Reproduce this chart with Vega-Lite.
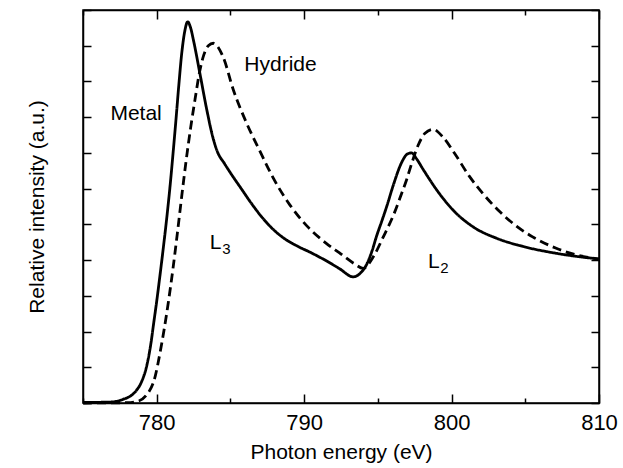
{
  "$schema": "https://vega.github.io/schema/vega-lite/v6.json",
  "width": 516,
  "height": 393,
  "autosize": "none",
  "padding": {"left": 83, "top": 10, "right": 24, "bottom": 65},
  "background": "white",
  "config": {
    "view": {"stroke": "black", "strokeWidth": 1.5},
    "font": "Liberation Sans",
    "axis": {"domainColor": "black", "domainWidth": 1.5, "tickColor": "black", "tickWidth": 1.5, "grid": false, "labelFont": "Liberation Sans", "titleFont": "Liberation Sans", "labelFontSize": 22, "titleFontSize": 21, "titleFontWeight": "normal", "labelColor": "black", "titleColor": "black"}
  },
  "datasets": {
    "spectra": [
      {"e": 775, "v": 0.02, "s": "Metal"}, {"e": 776, "v": 0.02, "s": "Metal"}, {"e": 777, "v": 0.03, "s": "Metal"},
      {"e": 777.7, "v": 0.1, "s": "Metal"}, {"e": 778.3, "v": 0.22, "s": "Metal"}, {"e": 778.6, "v": 0.34, "s": "Metal"},
      {"e": 779.0, "v": 0.62, "s": "Metal"}, {"e": 779.3, "v": 1.0, "s": "Metal"}, {"e": 779.6, "v": 1.65, "s": "Metal"},
      {"e": 779.8, "v": 2.25, "s": "Metal"}, {"e": 780.0, "v": 2.85, "s": "Metal"}, {"e": 780.2, "v": 3.5, "s": "Metal"},
      {"e": 780.45, "v": 4.35, "s": "Metal"}, {"e": 780.7, "v": 5.25, "s": "Metal"}, {"e": 780.9, "v": 6.05, "s": "Metal"},
      {"e": 781.1, "v": 6.95, "s": "Metal"}, {"e": 781.3, "v": 7.9, "s": "Metal"}, {"e": 781.5, "v": 8.9, "s": "Metal"},
      {"e": 781.7, "v": 9.8, "s": "Metal"}, {"e": 781.9, "v": 10.4, "s": "Metal"}, {"e": 782.1, "v": 10.67, "s": "Metal"},
      {"e": 782.3, "v": 10.5, "s": "Metal"}, {"e": 782.5, "v": 10.14, "s": "Metal"}, {"e": 782.94, "v": 9.2, "s": "Metal"},
      {"e": 783.4, "v": 8.2, "s": "Metal"}, {"e": 783.8, "v": 7.45, "s": "Metal"}, {"e": 784.1, "v": 7.05, "s": "Metal"},
      {"e": 784.6, "v": 6.7, "s": "Metal"}, {"e": 785.1, "v": 6.38, "s": "Metal"}, {"e": 785.7, "v": 6.02, "s": "Metal"},
      {"e": 786.4, "v": 5.6, "s": "Metal"}, {"e": 787.1, "v": 5.22, "s": "Metal"}, {"e": 787.8, "v": 4.9, "s": "Metal"},
      {"e": 788.6, "v": 4.62, "s": "Metal"}, {"e": 789.5, "v": 4.4, "s": "Metal"}, {"e": 790.5, "v": 4.2, "s": "Metal"},
      {"e": 791.5, "v": 3.98, "s": "Metal"}, {"e": 792.4, "v": 3.76, "s": "Metal"}, {"e": 793.33, "v": 3.53, "s": "Metal"},
      {"e": 793.8, "v": 3.63, "s": "Metal"}, {"e": 794.24, "v": 3.88, "s": "Metal"}, {"e": 794.6, "v": 4.25, "s": "Metal"},
      {"e": 794.92, "v": 4.68, "s": "Metal"}, {"e": 795.3, "v": 5.13, "s": "Metal"}, {"e": 795.6, "v": 5.5, "s": "Metal"},
      {"e": 796.05, "v": 6.1, "s": "Metal"}, {"e": 796.6, "v": 6.72, "s": "Metal"}, {"e": 797.0, "v": 6.97, "s": "Metal"},
      {"e": 797.3, "v": 7.0, "s": "Metal"}, {"e": 797.6, "v": 6.85, "s": "Metal"}, {"e": 798.1, "v": 6.52, "s": "Metal"},
      {"e": 799.0, "v": 5.96, "s": "Metal"}, {"e": 800.1, "v": 5.4, "s": "Metal"}, {"e": 801.5, "v": 4.92, "s": "Metal"},
      {"e": 803.06, "v": 4.61, "s": "Metal"}, {"e": 804.87, "v": 4.38, "s": "Metal"}, {"e": 807.1, "v": 4.19, "s": "Metal"},
      {"e": 810, "v": 4.03, "s": "Metal"},
      {"e": 775, "v": 0.0, "s": "Hydride"}, {"e": 778, "v": 0.01, "s": "Hydride"}, {"e": 778.64, "v": 0.04, "s": "Hydride"},
      {"e": 779.3, "v": 0.22, "s": "Hydride"}, {"e": 779.9, "v": 0.75, "s": "Hydride"}, {"e": 780.2, "v": 1.35, "s": "Hydride"},
      {"e": 780.5, "v": 2.05, "s": "Hydride"}, {"e": 780.8, "v": 2.85, "s": "Hydride"}, {"e": 781.1, "v": 3.75, "s": "Hydride"},
      {"e": 781.4, "v": 4.75, "s": "Hydride"}, {"e": 781.7, "v": 5.8, "s": "Hydride"}, {"e": 782.0, "v": 6.8, "s": "Hydride"},
      {"e": 782.3, "v": 7.7, "s": "Hydride"}, {"e": 782.6, "v": 8.5, "s": "Hydride"}, {"e": 782.9, "v": 9.25, "s": "Hydride"},
      {"e": 783.2, "v": 9.75, "s": "Hydride"}, {"e": 783.5, "v": 10.0, "s": "Hydride"}, {"e": 783.84, "v": 10.07, "s": "Hydride"},
      {"e": 784.5, "v": 9.69, "s": "Hydride"}, {"e": 785.2, "v": 8.76, "s": "Hydride"}, {"e": 786.1, "v": 7.83, "s": "Hydride"},
      {"e": 787.0, "v": 7.05, "s": "Hydride"}, {"e": 787.9, "v": 6.3, "s": "Hydride"}, {"e": 789.04, "v": 5.54, "s": "Hydride"},
      {"e": 790.2, "v": 4.95, "s": "Hydride"}, {"e": 791.5, "v": 4.47, "s": "Hydride"}, {"e": 792.4, "v": 4.2, "s": "Hydride"},
      {"e": 793.4, "v": 3.9, "s": "Hydride"}, {"e": 794.0, "v": 3.77, "s": "Hydride"}, {"e": 794.7, "v": 4.1, "s": "Hydride"},
      {"e": 795.37, "v": 4.65, "s": "Hydride"}, {"e": 796.05, "v": 5.25, "s": "Hydride"}, {"e": 796.6, "v": 5.85, "s": "Hydride"},
      {"e": 796.95, "v": 6.25, "s": "Hydride"}, {"e": 797.3, "v": 6.71, "s": "Hydride"}, {"e": 797.74, "v": 7.22, "s": "Hydride"},
      {"e": 798.2, "v": 7.55, "s": "Hydride"}, {"e": 798.76, "v": 7.66, "s": "Hydride"}, {"e": 799.4, "v": 7.45, "s": "Hydride"},
      {"e": 800.2, "v": 6.99, "s": "Hydride"}, {"e": 801.2, "v": 6.35, "s": "Hydride"}, {"e": 802.15, "v": 5.85, "s": "Hydride"},
      {"e": 803.28, "v": 5.35, "s": "Hydride"}, {"e": 804.4, "v": 4.95, "s": "Hydride"}, {"e": 805.5, "v": 4.65, "s": "Hydride"},
      {"e": 807.1, "v": 4.33, "s": "Hydride"}, {"e": 808.5, "v": 4.14, "s": "Hydride"}, {"e": 810, "v": 4.03, "s": "Hydride"}
    ],
    "labels": [
      {"e": 778.6, "v": 8.1, "t": "Metal", "size": "big"},
      {"e": 788.4, "v": 9.46, "t": "Hydride", "size": "big"},
      {"e": 784.0, "v": 4.48, "t": "L", "size": "big"},
      {"e": 784.72, "v": 4.3, "t": "3", "size": "sub"},
      {"e": 798.8, "v": 3.95, "t": "L", "size": "big"},
      {"e": 799.52, "v": 3.78, "t": "2", "size": "sub"}
    ]
  },
  "layer": [
    {
      "data": {"name": "spectra"},
      "mark": {"type": "line", "color": "black", "strokeWidth": 2.8, "interpolate": "monotone"},
      "encoding": {
        "x": {"field": "e", "type": "quantitative", "scale": {"domain": [775, 810], "nice": false, "zero": false},
          "axis": {"orient": "bottom", "title": "Photon energy (eV)", "values": [775, 780, 785, 790, 795, 800, 805, 810],
            "labelExpr": "datum.value % 10 === 0 && datum.value > 775 ? datum.label : ''",
            "tickSize": {"expr": "datum.value % 10 === 0 ? -9 : -5"}, "labelPadding": 18, "titlePadding": 8, "labelFlush": false}},
        "y": {"field": "v", "type": "quantitative", "scale": {"domain": [0, 11], "nice": false},
          "axis": {"orient": "left", "title": "Relative intensity (a.u.)", "values": [0,1,2,3,4,5,6,7,8,9,10,11], "labels": false, "tickSize": -8, "titlePadding": 35}},
        "strokeDash": {"field": "s", "type": "nominal", "scale": {"domain": ["Metal", "Hydride"], "range": [[1, 0], [9, 5]]}, "legend": null},
        "detail": {"field": "s"}
      }
    },
    {
      "data": {"name": "labels"},
      "mark": {"type": "text", "color": "black", "font": "Liberation Sans", "align": "center", "baseline": "middle"},
      "encoding": {
        "x": {"field": "e", "type": "quantitative",
          "axis": {"orient": "top", "title": null, "values": [775, 780, 785, 790, 795, 800, 805, 810], "labels": false,
            "tickSize": {"expr": "datum.value % 10 === 0 ? -9 : -5"}}},
        "y": {"field": "v", "type": "quantitative",
          "axis": {"orient": "right", "title": null, "values": [0,1,2,3,4,5,6,7,8,9,10,11], "labels": false, "tickSize": -8}},
        "text": {"field": "t"},
        "size": {"field": "size", "type": "nominal", "scale": {"domain": ["big", "sub"], "range": [21, 15]}, "legend": null}
      }
    }
  ]
}
